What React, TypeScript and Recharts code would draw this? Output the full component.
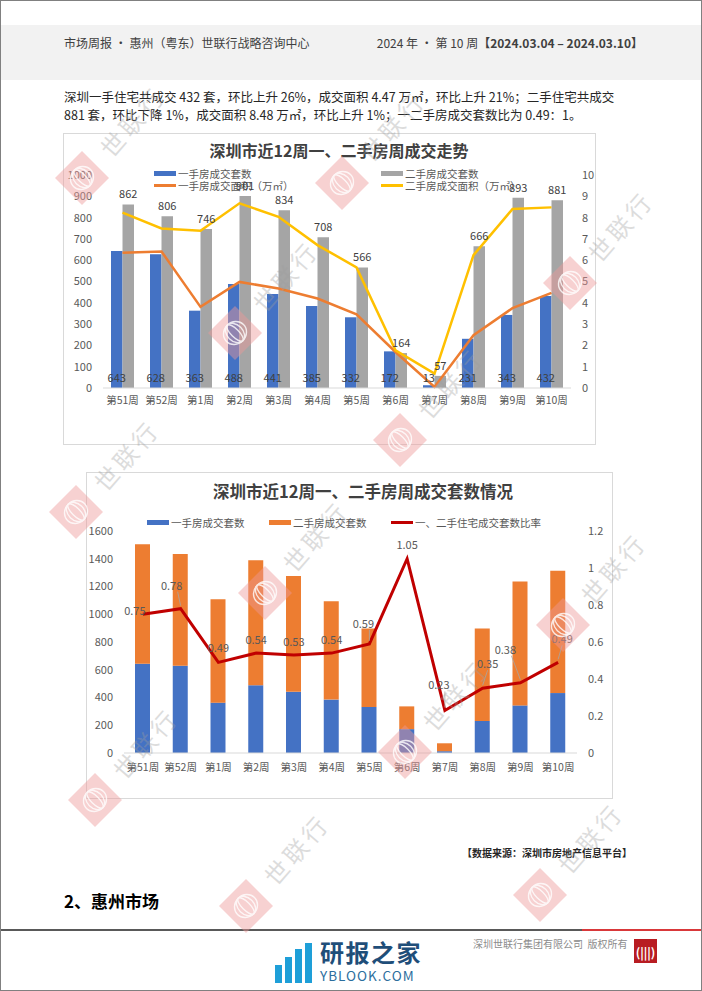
import { ComposedChart, Bar, Line, XAxis, YAxis, LabelList } from 'recharts';

const WEEKS = ['第51周', '第52周', '第1周', '第2周', '第3周', '第4周', '第5周', '第6周', '第7周', '第8周', '第9周', '第10周'];
const NEW_UNITS = [643, 628, 363, 488, 441, 385, 332, 172, 13, 231, 343, 432];
const RESALE_UNITS = [862, 806, 746, 901, 834, 708, 566, 164, 57, 666, 893, 881];
const NEW_AREA = [6.35, 6.41, 3.81, 4.98, 4.67, 4.2, 3.46, 1.69, 0.05, 2.48, 3.75, 4.47];
const RESALE_AREA = [8.23, 7.49, 7.38, 8.67, 8.04, 6.71, 5.66, 1.77, 0.68, 6.24, 8.4, 8.48];
const UNIT_RATIO = [0.75, 0.78, 0.49, 0.54, 0.53, 0.54, 0.59, 1.05, 0.23, 0.35, 0.38, 0.49];

const UNIT_TICKS_1 = [0, 100, 200, 300, 400, 500, 600, 700, 800, 900, 1000];
const AREA_TICKS = [0, 1, 2, 3, 4, 5, 6, 7, 8, 9, 10];
const UNIT_TICKS_2 = [0, 200, 400, 600, 800, 1000, 1200, 1400, 1600];
const RATIO_TICKS = [0, 0.2, 0.4, 0.6, 0.8, 1, 1.2];

// where excel dragged the ratio labels (dx, dy from the point)
const RATIO_LABEL_SHIFT: [number, number][] = [
  [-8, -4], [-9, -24], [0, -15], [0, -14], [0, -14], [0, -14],
  [-6, -21], [0, -15], [-6, -26], [5, -25], [-15, -34], [4, -24]
];

// page watermark diamonds (centres), text runs up-right from each
const WATERMARKS: [number, number][] = [
  [82, 178], [342, 183], [235, 333], [570, 283], [400, 440],
  [76, 512], [265, 593], [563, 625], [405, 752], [95, 800],
  [246, 906], [540, 895]
];

const data = WEEKS.map((week, i) => ({
  week,
  newUnits: NEW_UNITS[i],
  resaleUnits: RESALE_UNITS[i],
  newArea: NEW_AREA[i],
  resaleArea: RESALE_AREA[i],
  ratio: UNIT_RATIO[i]
}));

const FONT = '"Noto Sans CJK SC", "Noto Sans", sans-serif';
const BLUE = '#4472C4';
const GRAY = '#A5A5A5';
const ORANGE = '#ED7D31';
const YELLOW = '#FFC000';
const RED = '#C00000';
const AXIS = '#D9D9D9';
const TICK = { fill: '#595959', fontSize: 11, fontFamily: FONT };

const LegendItem = ({ color, label, line }: { color: string; label: string; line?: boolean }) => (
  <div style={{ display: 'flex', alignItems: 'center', height: 12 }}>
    <span style={{ width: 22, height: line ? 3 : 5, background: color, marginRight: 2 }} />
    <span style={{ fontSize: 10.5, color: '#595959' }}>{label}</span>
  </div>
);

const RatioLabel = (props: any) => {
  const { x, y, value, index } = props;
  const [dx, dy] = RATIO_LABEL_SHIFT[index] ?? [0, -14];
  const lx = x + dx;
  const ly = y + dy;
  const leader = dy <= -20;
  return (
    <g>
      {leader && <line x1={lx + (dx < 0 ? 6 : 0)} y1={ly + 7} x2={x} y2={y - 3} stroke="#A6A6A6" strokeWidth={0.8} />}
      <text x={lx} y={ly} textAnchor="middle" dominantBaseline="central" fontSize={11} fill="#595959" fontFamily={FONT}>
        {value}
      </text>
    </g>
  );
};

const TrendChart = () => (
  <div style={{ position: 'absolute', left: 63, top: 133, width: 533, height: 312, border: '1px solid #D9D9D9', boxSizing: 'border-box', background: '#fff' }}>
    <div style={{ position: 'absolute', left: 0, top: 4, width: 550, textAlign: 'center', fontSize: 16, fontWeight: 700, color: '#404040', whiteSpace: 'nowrap' }}>
      深圳市近12周一、二手房周成交走势
    </div>
    <div style={{ position: 'absolute', left: 90, top: 33 }}>
      <LegendItem color={BLUE} label="一手房成交套数" />
      <LegendItem color={ORANGE} label="一手房成交面积（万㎡）" line />
    </div>
    <div style={{ position: 'absolute', left: 317, top: 33 }}>
      <LegendItem color={GRAY} label="二手房成交套数" />
      <LegendItem color={YELLOW} label="二手房成交面积（万㎡）" line />
    </div>
    <ComposedChart width={531} height={310} data={data} margin={{ top: 41, right: 0, bottom: 0, left: 0 }} barGap={0} style={{ position: 'absolute', left: 0, top: 0 }}>
      <XAxis dataKey="week" height={56} tick={{ ...TICK, fontSize: 10.5 }} tickLine={false} tickMargin={3} axisLine={{ stroke: AXIS }} interval={0} />
      <YAxis yAxisId="units" width={39} domain={[0, 1000]} ticks={UNIT_TICKS_1} tick={TICK} tickLine={false} axisLine={false} tickMargin={5} />
      <YAxis yAxisId="area" orientation="right" width={24} domain={[0, 10]} ticks={AREA_TICKS} tick={TICK} tickLine={false} axisLine={false} tickMargin={5} />
      <Bar yAxisId="units" dataKey="newUnits" fill={BLUE} barSize={11.5} isAnimationActive={false}>
        <LabelList dataKey="newUnits" position="insideBottom" offset={6} fill="#404040" fontSize={11} fontFamily={FONT} />
      </Bar>
      <Bar yAxisId="units" dataKey="resaleUnits" fill={GRAY} barSize={11.5} isAnimationActive={false}>
        <LabelList dataKey="resaleUnits" position="top" offset={6} fill="#404040" fontSize={11} fontFamily={FONT} />
      </Bar>
      <Line yAxisId="area" dataKey="newArea" stroke={ORANGE} strokeWidth={2.5} dot={false} isAnimationActive={false} />
      <Line yAxisId="area" dataKey="resaleArea" stroke={YELLOW} strokeWidth={2.5} dot={false} isAnimationActive={false} />
    </ComposedChart>
  </div>
);

const UnitsChart = () => (
  <div style={{ position: 'absolute', left: 86, top: 472, width: 527, height: 327, border: '1px solid #D9D9D9', boxSizing: 'border-box', background: '#fff' }}>
    <div style={{ position: 'absolute', left: 0, top: 6, width: 552, textAlign: 'center', fontSize: 16.5, fontWeight: 700, color: '#404040', whiteSpace: 'nowrap' }}>
      深圳市近12周一、二手房周成交套数情况
    </div>
    <div style={{ position: 'absolute', left: 60, top: 43, display: 'flex' }}>
      <div style={{ width: 122 }}><LegendItem color={BLUE} label="一手房成交套数" /></div>
      <div style={{ width: 122 }}><LegendItem color={ORANGE} label="二手房成交套数" /></div>
      <div><LegendItem color={RED} label="一、二手住宅成交套数比率" line /></div>
    </div>
    <ComposedChart width={525} height={325} data={data} margin={{ top: 58, right: 0, bottom: 0, left: 0 }} style={{ position: 'absolute', left: 0, top: 0 }}>
      <XAxis dataKey="week" height={45} tick={{ ...TICK, fontSize: 10.5 }} tickLine={false} tickMargin={5} axisLine={{ stroke: AXIS }} interval={0} />
      <YAxis yAxisId="units" width={37} domain={[0, 1600]} ticks={UNIT_TICKS_2} tick={TICK} tickLine={false} axisLine={false} tickMargin={5} />
      <YAxis yAxisId="ratio" orientation="right" width={35} domain={[0, 1.2]} ticks={RATIO_TICKS} tick={TICK} tickLine={false} axisLine={false} tickMargin={5} />
      <Bar yAxisId="units" dataKey="newUnits" stackId="u" fill={BLUE} barSize={15} isAnimationActive={false} />
      <Bar yAxisId="units" dataKey="resaleUnits" stackId="u" fill={ORANGE} barSize={15} isAnimationActive={false} />
      <Line yAxisId="ratio" dataKey="ratio" stroke={RED} strokeWidth={3} dot={false} isAnimationActive={false}>
        <LabelList dataKey="ratio" content={RatioLabel} />
      </Line>
    </ComposedChart>
  </div>
);

// faint "世联行" stamp repeated over the page
const Watermarks = () => (
  <svg width={702} height={991} style={{ position: 'absolute', left: 0, top: 0, pointerEvents: 'none' }}>
    {WATERMARKS.map(([cx, cy], i) => (
      <g key={i}>
        <polygon points={`${cx},${cy - 27} ${cx + 27},${cy} ${cx},${cy + 27} ${cx - 27},${cy}`} fill="#EE9A9A" opacity={0.45} />
        <g transform={`rotate(-45 ${cx} ${cy})`} fill="none" stroke="#fff" strokeWidth={1.4} opacity={0.8}>
          <ellipse cx={cx} cy={cy} rx={4} ry={11} />
          <ellipse cx={cx} cy={cy} rx={8} ry={11} />
          <ellipse cx={cx} cy={cy} rx={12} ry={11} />
        </g>
        <text
          x={cx + 50}
          y={cy - 57}
          transform={`rotate(-49 ${cx + 50} ${cy - 57})`}
          textAnchor="middle"
          dominantBaseline="central"
          fontSize={24}
          fontFamily={FONT}
          fill="#9E9E9E"
          opacity={0.35}
          letterSpacing={4}
        >
          世联行
        </text>
      </g>
    ))}
  </svg>
);

const YblookMark = () => (
  <div style={{ position: 'absolute', left: 275, top: 938, display: 'flex', alignItems: 'flex-end' }}>
    <div style={{ display: 'flex', alignItems: 'flex-end', gap: 3, marginRight: 8, height: 44 }}>
      {[18, 26, 34, 40].map((h, i) => (
        <span key={i} style={{ width: 7, height: h, background: '#1E9FD8' }} />
      ))}
    </div>
    <div>
      <div style={{ fontSize: 24, lineHeight: '28px', fontWeight: 700, color: '#1F4E79', letterSpacing: 1.5 }}>研报之家</div>
      <div style={{ fontSize: 13.5, lineHeight: '15px', marginTop: 2, color: '#2C6E9E', letterSpacing: 1 }}>YBLOOK.COM</div>
    </div>
  </div>
);

export default function App() {
  return (
    <div style={{ position: 'relative', width: 702, height: 991, overflow: 'hidden', fontFamily: FONT, background: '#fff' }}>
      <style>{'body{margin:0}'}</style>
      <div style={{ position: 'absolute', inset: 0, border: '1px solid #808080', boxSizing: 'border-box' }} />
      <div style={{ position: 'absolute', left: 1, top: 25, width: 700, height: 55, background: '#F2F2F2' }} />
      <div style={{ position: 'absolute', left: 64, top: 34, fontSize: 12, color: '#404040', whiteSpace: 'nowrap' }}>
        市场周报 · 惠州（粤东）世联行战略咨询中心
      </div>
      <div style={{ position: 'absolute', right: 59, top: 34, fontSize: 12, color: '#404040', whiteSpace: 'nowrap' }}>
        2024 年 · 第 10 周<b>【2024.03.04 – 2024.03.10】</b>
      </div>
      <div style={{ position: 'absolute', left: 64, top: 88, fontSize: 12.5, lineHeight: '18px', color: '#262626', whiteSpace: 'nowrap' }}>
        <div>深圳一手住宅共成交 432 套，环比上升 26%，成交面积 4.47 万㎡，环比上升 21%；二手住宅共成交</div>
        <div>881 套，环比下降 1%，成交面积 8.48 万㎡，环比上升 1%；一二手房成交套数比为 0.49：1。</div>
      </div>
      <TrendChart />
      <UnitsChart />
      <div style={{ position: 'absolute', right: 70, top: 845, fontSize: 10, fontWeight: 700, color: '#262626', whiteSpace: 'nowrap' }}>
        【数据来源：深圳市房地产信息平台】
      </div>
      <div style={{ position: 'absolute', left: 64, top: 888, fontSize: 17, fontWeight: 700, color: '#000' }}>2、惠州市场</div>
      <div style={{ position: 'absolute', left: 1, top: 929, width: 581, height: 2, background: '#595959' }} />
      <div style={{ position: 'absolute', left: 582, top: 929, width: 119, height: 2, background: '#D9383A' }} />
      <div style={{ position: 'absolute', left: 473, top: 936, fontSize: 10, color: '#8C8C8C', whiteSpace: 'nowrap' }}>
        深圳世联行集团有限公司&nbsp;&nbsp;版权所有
      </div>
      <div style={{ position: 'absolute', left: 634, top: 939, width: 23, height: 24, background: '#B81C22', display: 'flex', alignItems: 'center', justifyContent: 'center', color: '#fff', fontSize: 12, fontWeight: 700 }}>
        (|||)
      </div>
      <Watermarks />
      <YblookMark />
    </div>
  );
}
